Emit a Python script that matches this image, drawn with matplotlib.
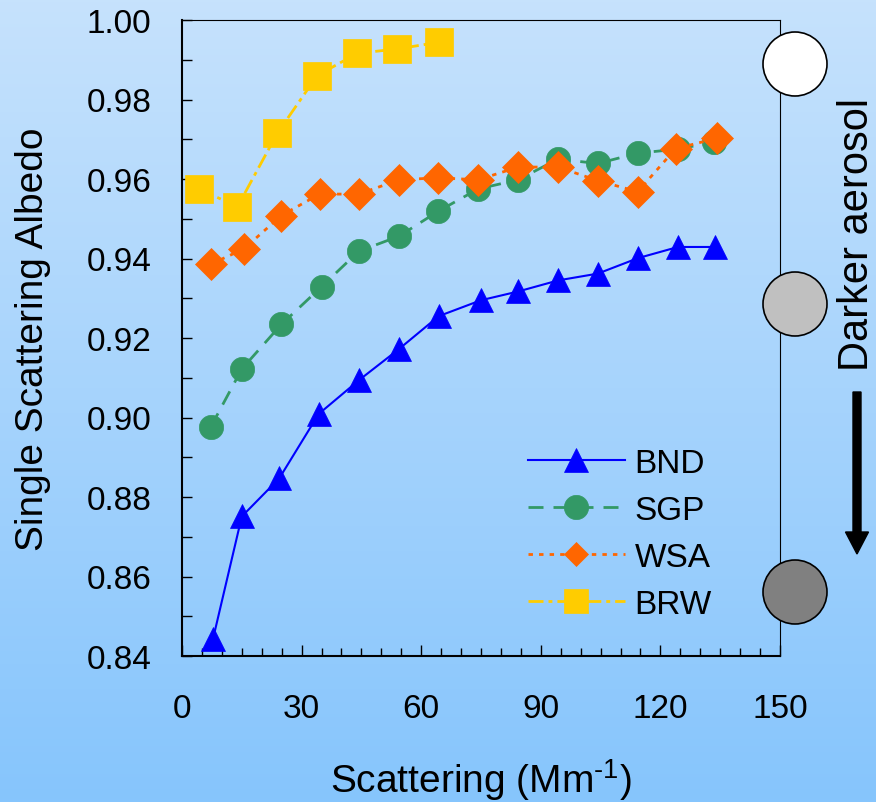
import numpy as np
import matplotlib
matplotlib.use('Agg')
import matplotlib.pyplot as plt
from matplotlib.patches import Circle
from matplotlib.ticker import MultipleLocator

plt.rcParams['font.family'] = ['Liberation Sans', 'DejaVu Sans']
plt.rcParams['mathtext.fontset'] = 'custom'
plt.rcParams['mathtext.rm'] = 'Liberation Sans'

# --- Data ---
BND_x = [7.8, 15.0, 24.4, 34.3, 44.4, 54.4, 64.4, 75.0, 84.3, 94.4, 104.3, 114.4, 124.4, 133.8]
BND_y = [0.8444, 0.8751, 0.8847, 0.9009, 0.9094, 0.9172, 0.9255, 0.9295, 0.9317, 0.9345,
         0.9362, 0.9401, 0.9429, 0.9429]

SGP_x = [7.25, 15.0, 24.9, 35.0, 44.3, 54.4, 64.3, 74.3, 84.3, 94.3, 104.3, 114.3, 124.3, 133.5]
SGP_y = [0.8977, 0.9122, 0.9234, 0.9329, 0.9418, 0.9456, 0.9519, 0.9575, 0.9598, 0.9650,
         0.9639, 0.9665, 0.9675, 0.9693]

WSA_x = [7.25, 15.5, 24.9, 34.5, 44.3, 54.5, 64.3, 74.3, 84.3, 94.3, 104.3, 114.3, 123.8, 134.3]
WSA_y = [0.9386, 0.9424, 0.9508, 0.9562, 0.9562, 0.9598, 0.9603, 0.9598, 0.9630, 0.9630,
         0.9596, 0.9568, 0.9676, 0.9703]

BRW_x = [4.3, 13.9, 23.9, 33.9, 43.9, 53.9, 64.4]
BRW_y = [0.9575, 0.9530, 0.9715, 0.9860, 0.9916, 0.9927, 0.9944]

W, H = 876, 803
fig = plt.figure(figsize=(W / 100, H / 100), dpi=100)

# --- gradient background ---
bg = fig.add_axes([0, 0, 1, 1], zorder=-10)
top = np.array([198, 226, 252]) / 255
bot = np.array([134, 197, 253]) / 255
t = np.linspace(0, 1, 256)[:, None]
grad = (top[None, :] * (1 - t) + bot[None, :] * t)[:, None, :]
bg.imshow(grad, aspect='auto', extent=[0, 1, 0, 1], origin='upper')
bg.set_axis_off()

ax = fig.add_axes([182 / W, 1 - 657 / H, 598 / W, 636 / H])
ax.set_facecolor('none')

ax.plot(BND_x, BND_y, color='#0000FF', lw=1.5, marker='^', ms=17,
        mec='#0000FF', mew=0.5, label='BND')
ax.plot(SGP_x, SGP_y, color='#339966', lw=2, ls=(0, (5.4, 3.6)), marker='o', ms=17.5,
        mec='#339966', mew=0.5, label='SGP')
ax.plot(WSA_x, WSA_y, color='#FF6600', lw=2, ls=(0, (1.6, 2.2)), marker='D', ms=16.5,
        mec='#FF6600', mew=0.5, label='WSA')
ax.plot(BRW_x, BRW_y, color='#FFCC00', lw=2, ls=(0, (5.4, 1.8, 1.4, 1.8)), marker='s', ms=20.5,
        mec='#FFCC00', mew=0.5, label='BRW')

ax.set_xlim(0, 150)
ax.set_ylim(0.84, 1.00)
ax.xaxis.set_major_locator(MultipleLocator(30))
ax.xaxis.set_minor_locator(MultipleLocator(5))
ax.yaxis.set_major_locator(MultipleLocator(0.02))
ax.yaxis.set_minor_locator(MultipleLocator(0.01))
ax.yaxis.set_major_formatter(matplotlib.ticker.FormatStrFormatter('%.2f'))

ax.tick_params(axis='x', which='major', direction='in', length=8, width=1, labelsize=24, pad=27)
ax.tick_params(axis='x', which='minor', direction='in', length=5.8, width=1)
ax.tick_params(axis='y', which='both', direction='in', length=7, width=1, labelsize=24, pad=22)

for side in ['left', 'bottom']:
    ax.spines[side].set_linewidth(1.5)
for side in ['top', 'right']:
    ax.spines[side].set_linewidth(0.8)

ax.set_xlabel('Scattering (Mm$^{\\mathregular{\u2010}1}$)', fontsize=28)
ax.set_ylabel('Single Scattering Albedo', fontsize=28)
ax.xaxis.set_label_coords(0.5, -0.158)
ax.xaxis.label.set_va('top')
ax.yaxis.set_label_coords(-0.219, 0.5)

leg = ax.legend(loc='upper left', bbox_to_anchor=(528 / W, 1 - 449 / H),
                bbox_transform=fig.transFigure, frameon=False, fontsize=24,
                handlelength=2.9, handletextpad=0.3, labelspacing=0.48,
                borderpad=0, borderaxespad=0)
for h, ms in zip(leg.legend_handles, [17, 17.5, 12, 17]):
    h.set_markersize(ms)

# --- decorations on the right ---
over = fig.add_axes([0, 0, 1, 1], zorder=5)
over.set_xlim(0, W)
over.set_ylim(H, 0)
over.set_axis_off()
over.patch.set_alpha(0)
for cy, fc in [(65, 'white'), (305, '#C0C0C0'), (593, '#808080')]:
    over.add_patch(Circle((795, cy), 32, facecolor=fc, edgecolor='black', lw=1.2))
over.arrow(857, 393, 0, 162, width=8, head_width=23, head_length=22,
           length_includes_head=True, color='black')
over.text(857, 234.5, 'Darker aerosol', rotation=90, ha='center', va='center', fontsize=30)

fig.savefig('out.png', dpi=100)
